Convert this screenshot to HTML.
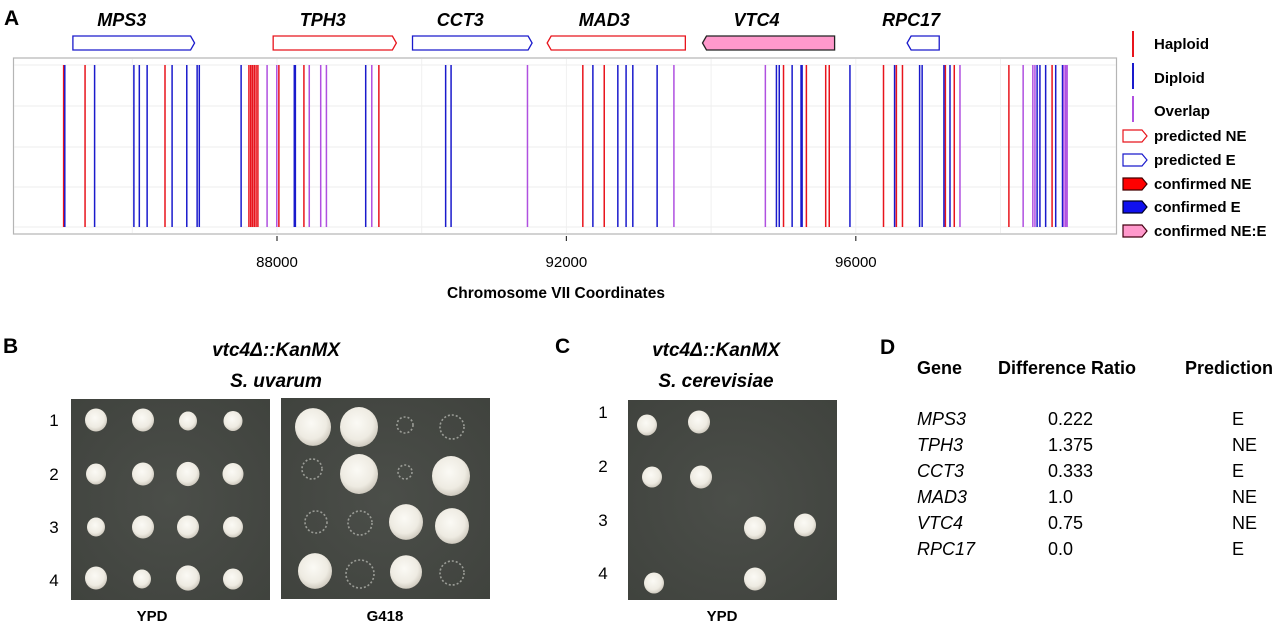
<!DOCTYPE html>
<html><head><meta charset="utf-8">
<style>
html,body{margin:0;padding:0;background:#fff;}
svg{display:block;font-family:"Liberation Sans",sans-serif;}
.b{font-weight:bold;}
</style></head>
<body>
<svg id="fig" width="1280" height="624" viewBox="0 0 1280 624" xmlns="http://www.w3.org/2000/svg">
<defs>
<radialGradient id="col" cx="45%" cy="40%" r="60%">
<stop offset="0" stop-color="#fbfaf5"/><stop offset="0.7" stop-color="#eeebe2"/><stop offset="1" stop-color="#cfcabf"/>
</radialGradient>
<radialGradient id="plateG" cx="50%" cy="50%" r="75%">
<stop offset="0" stop-color="#4b4e49"/><stop offset="1" stop-color="#3f423d"/>
</radialGradient>
</defs>
<text x="4" y="25" font-size="21" class="b">A</text>
<g id="genes"></g>
<rect x="13.5" y="58" width="1103" height="176" fill="#fff" stroke="#b5b5b5" stroke-width="1.2"/>
<g id="grid"></g>
<g id="marks"></g>
<g id="axis"></g>
<text x="556" y="298" font-size="15.5" class="b" text-anchor="middle">Chromosome VII Coordinates</text>

<g>
<line x1="1133" y1="31" x2="1133" y2="57" stroke="#e8141c" stroke-width="2"/>
<text x="1154" y="49" font-size="15" class="b">Haploid</text>
<line x1="1133" y1="63" x2="1133" y2="89" stroke="#1a1acc" stroke-width="2"/>
<text x="1154" y="83" font-size="15" class="b">Diploid</text>
<line x1="1133" y1="96" x2="1133" y2="122" stroke="#b050e0" stroke-width="2"/>
<text x="1154" y="116" font-size="15" class="b">Overlap</text>
<path d="M1123,130 h19 l5,6 l-5,6 h-19 z" fill="#fff" stroke="#e8141c" stroke-width="1.2"/>
<text x="1154" y="141" font-size="15" class="b">predicted NE</text>
<path d="M1123,154 h19 l5,6 l-5,6 h-19 z" fill="#fff" stroke="#1a1acc" stroke-width="1.2"/>
<text x="1154" y="165" font-size="15" class="b">predicted E</text>
<path d="M1123,178 h19 l5,6 l-5,6 h-19 z" fill="#f00" stroke="#400" stroke-width="1.2"/>
<text x="1154" y="189" font-size="15" class="b">confirmed NE</text>
<path d="M1123,201 h19 l5,6 l-5,6 h-19 z" fill="#1010ee" stroke="#002" stroke-width="1.2"/>
<text x="1154" y="212" font-size="15" class="b">confirmed E</text>
<path d="M1123,225 h19 l5,6 l-5,6 h-19 z" fill="#ff99cc" stroke="#401" stroke-width="1.2"/>
<text x="1154" y="236" font-size="15" class="b">confirmed NE:E</text>
</g>

<!-- Panel B -->
<text x="3" y="353" font-size="21" class="b">B</text>
<text x="276" y="356" font-size="19" class="b" font-style="italic" text-anchor="middle">vtc4Δ::KanMX</text>
<text x="276" y="387" font-size="19" class="b" font-style="italic" text-anchor="middle">S. uvarum</text>
<rect x="71" y="399" width="199" height="201" fill="url(#plateG)"/>
<rect x="281" y="398" width="209" height="201" fill="url(#plateG)"/>
<g font-size="17" text-anchor="middle">
<text x="54" y="426">1</text><text x="54" y="480">2</text><text x="54" y="533">3</text><text x="54" y="586">4</text>
</g>
<g id="colB"></g>
<text x="152" y="621" font-size="15" class="b" text-anchor="middle">YPD</text>
<text x="385" y="621" font-size="15" class="b" text-anchor="middle">G418</text>

<!-- Panel C -->
<text x="555" y="353" font-size="21" class="b">C</text>
<text x="716" y="356" font-size="19" class="b" font-style="italic" text-anchor="middle">vtc4Δ::KanMX</text>
<text x="716" y="387" font-size="19" class="b" font-style="italic" text-anchor="middle">S. cerevisiae</text>
<rect x="628" y="400" width="209" height="200" fill="url(#plateG)"/>
<g font-size="17" text-anchor="middle">
<text x="603" y="418">1</text><text x="603" y="472">2</text><text x="603" y="526">3</text><text x="603" y="579">4</text>
</g>
<g id="colC"></g>
<text x="722" y="621" font-size="15" class="b" text-anchor="middle">YPD</text>

<!-- Panel D -->
<text x="880" y="354" font-size="21" class="b">D</text>
<g font-size="18" class="b">
<text x="917" y="374">Gene</text><text x="998" y="374">Difference Ratio</text><text x="1185" y="374">Prediction</text>
</g>
<g id="tbl" font-size="18"></g>
</svg>
<script>
const NS='http://www.w3.org/2000/svg';
const haploid=[85051,85347,86452,87612,87637,87661,87686,87711,87736,88026,88372,89408,92227,92523,95001,95317,95584,95633,96383,96561,96645,97238,97361,98116,98713];
const diploid=[85067,85479,86022,86097,86205,86550,86753,86896,86926,87504,88239,88254,89226,90331,90406,92366,92711,92825,92918,93254,94903,94942,95120,95243,95258,95919,96536,96882,96917,97218,97302,98506,98545,98624,98763,98857];
const overlap=[87863,87997,88446,88604,88683,89310,91462,93486,94750,97440,98313,98447,98476,98876,98901,98921];
const tickValues=[88000,92000,96000];
const gridValues=[86000,88000,90000,92000,94000,96000,98000];
const geneNames=['MPS3','TPH3','CCT3','MAD3','VTC4','RPC17'];
const geneStart=[85179,87947,89873,91734,93881,96709];
const geneEnd=[86861,89650,91526,93644,95707,97153];
const geneDir=[1,1,1,-1,-1,-1];
const geneType=['pe','pne','pe','pne','cnee','pe'];
const ratios=['0.222','1.375','0.333','1.0','0.75','0.0'];
const predictions=['E','NE','E','NE','NE','E'];

function x(c){return 277+(c-88000)*289.4/4000;}
function mk(tag,attrs,parent){const e=document.createElementNS(NS,tag);for(const k in attrs)e.setAttribute(k,attrs[k]);parent.appendChild(e);return e;}

const grid=document.getElementById('grid');
[65,106,147,187,227].forEach(y=>{const l=mk('line',{x1:14,x2:1116,y1:y,y2:y,stroke:'#ececec','stroke-width':1},grid);

});
gridValues.forEach(v=>{const l=mk('line',{x1:x(v),x2:x(v),y1:59,y2:233,stroke:'#f0f0f0','stroke-width':1},grid);

});

const marks=document.getElementById('marks');
function drawSeries(arr,color,name){arr.forEach(v=>{const l=mk('line',{x1:x(v),x2:x(v),y1:65,y2:227,stroke:color,'stroke-width':1.5},marks);

});}
drawSeries(haploid,'#e8141c','haploid-line');
drawSeries(diploid,'#1a1acc','diploid-line');
drawSeries(overlap,'#b050e0','overlap-line');

const axis=document.getElementById('axis');
tickValues.forEach(v=>{const t=mk('line',{x1:x(v),x2:x(v),y1:236,y2:241,stroke:'#333','stroke-width':1.2},axis);


const lb=mk('text',{x:x(v),y:267,'font-size':15,'text-anchor':'middle'},axis);lb.textContent=v;

});

const genes=document.getElementById('genes');
const styles={pe:['#fff','#1a1acc'],pne:['#fff','#e8141c'],cnee:['#ff99cc','#222']};
geneNames.forEach((n,i)=>{const a=x(geneStart[i]),b=x(geneEnd[i]),y0=36,y1=50,ym=43,t=4;let d;
if(geneDir[i]>0)d=`M${a},${y0} H${b-t} L${b},${ym} L${b-t},${y1} H${a} Z`;else d=`M${a+t},${y0} H${b} V${y1} H${a+t} L${a},${ym} Z`;
const s=styles[geneType[i]];
const p=mk('path',{d:d,fill:s[0],stroke:s[1],'stroke-width':1.3},genes);


const lb=mk('text',{x:(a+b)/2-12,y:26,'font-size':18,'font-weight':'bold','font-style':'italic','text-anchor':'middle'},genes);lb.textContent=n;

});

function colony(g,cx,cy,r,kind){let c;
if(kind==='f'){c=mk('circle',{cx:cx,cy:cy,r:r,fill:'none',stroke:'#9a9c96','stroke-width':1.6,'stroke-dasharray':'2 2'},g);}
else{c=mk('ellipse',{cx:cx,cy:cy,rx:r,ry:r*1.05,fill:'url(#col)'},g);}

}
const gB=document.getElementById('colB');
[[96,420,11],[143,420,11],[188,421,9],[233,421,9.5],[96,474,10],[143,474,11],[188,474,11.5],[233,474,10.5],[96,527,9],[143,527,11],[188,527,11],[233,527,10],[96,578,11],[142,579,9],[188,578,12],[233,579,10]].forEach(c=>colony(gB,c[0],c[1],c[2]));
[[313,427,18,'s'],[359,427,19,'s'],[405,425,8,'f'],[452,427,12,'f'],[312,469,10,'f'],[359,474,19,'s'],[405,472,7,'f'],[451,476,19,'s'],[316,522,11,'f'],[360,523,12,'f'],[406,522,17,'s'],[452,526,17,'s'],[315,571,17,'s'],[360,574,14,'f'],[406,572,16,'s'],[452,573,12,'f']].forEach(c=>colony(gB,c[0],c[1],c[2],c[3]));
const gC=document.getElementById('colC');
[[647,425,10],[699,422,11],[652,477,10],[701,477,11],[755,528,11],[805,525,11],[654,583,10],[755,579,11]].forEach(c=>colony(gC,c[0],c[1],c[2]));

const tbl=document.getElementById('tbl');
geneNames.forEach((n,i)=>{const y=425+i*26;
const a=mk('text',{x:917,y:y,'font-style':'italic'},tbl);a.textContent=n;


const b=mk('text',{x:1048,y:y},tbl);b.textContent=ratios[i];


const c=mk('text',{x:1232,y:y},tbl);c.textContent=predictions[i];

});
</script>
</body></html>
